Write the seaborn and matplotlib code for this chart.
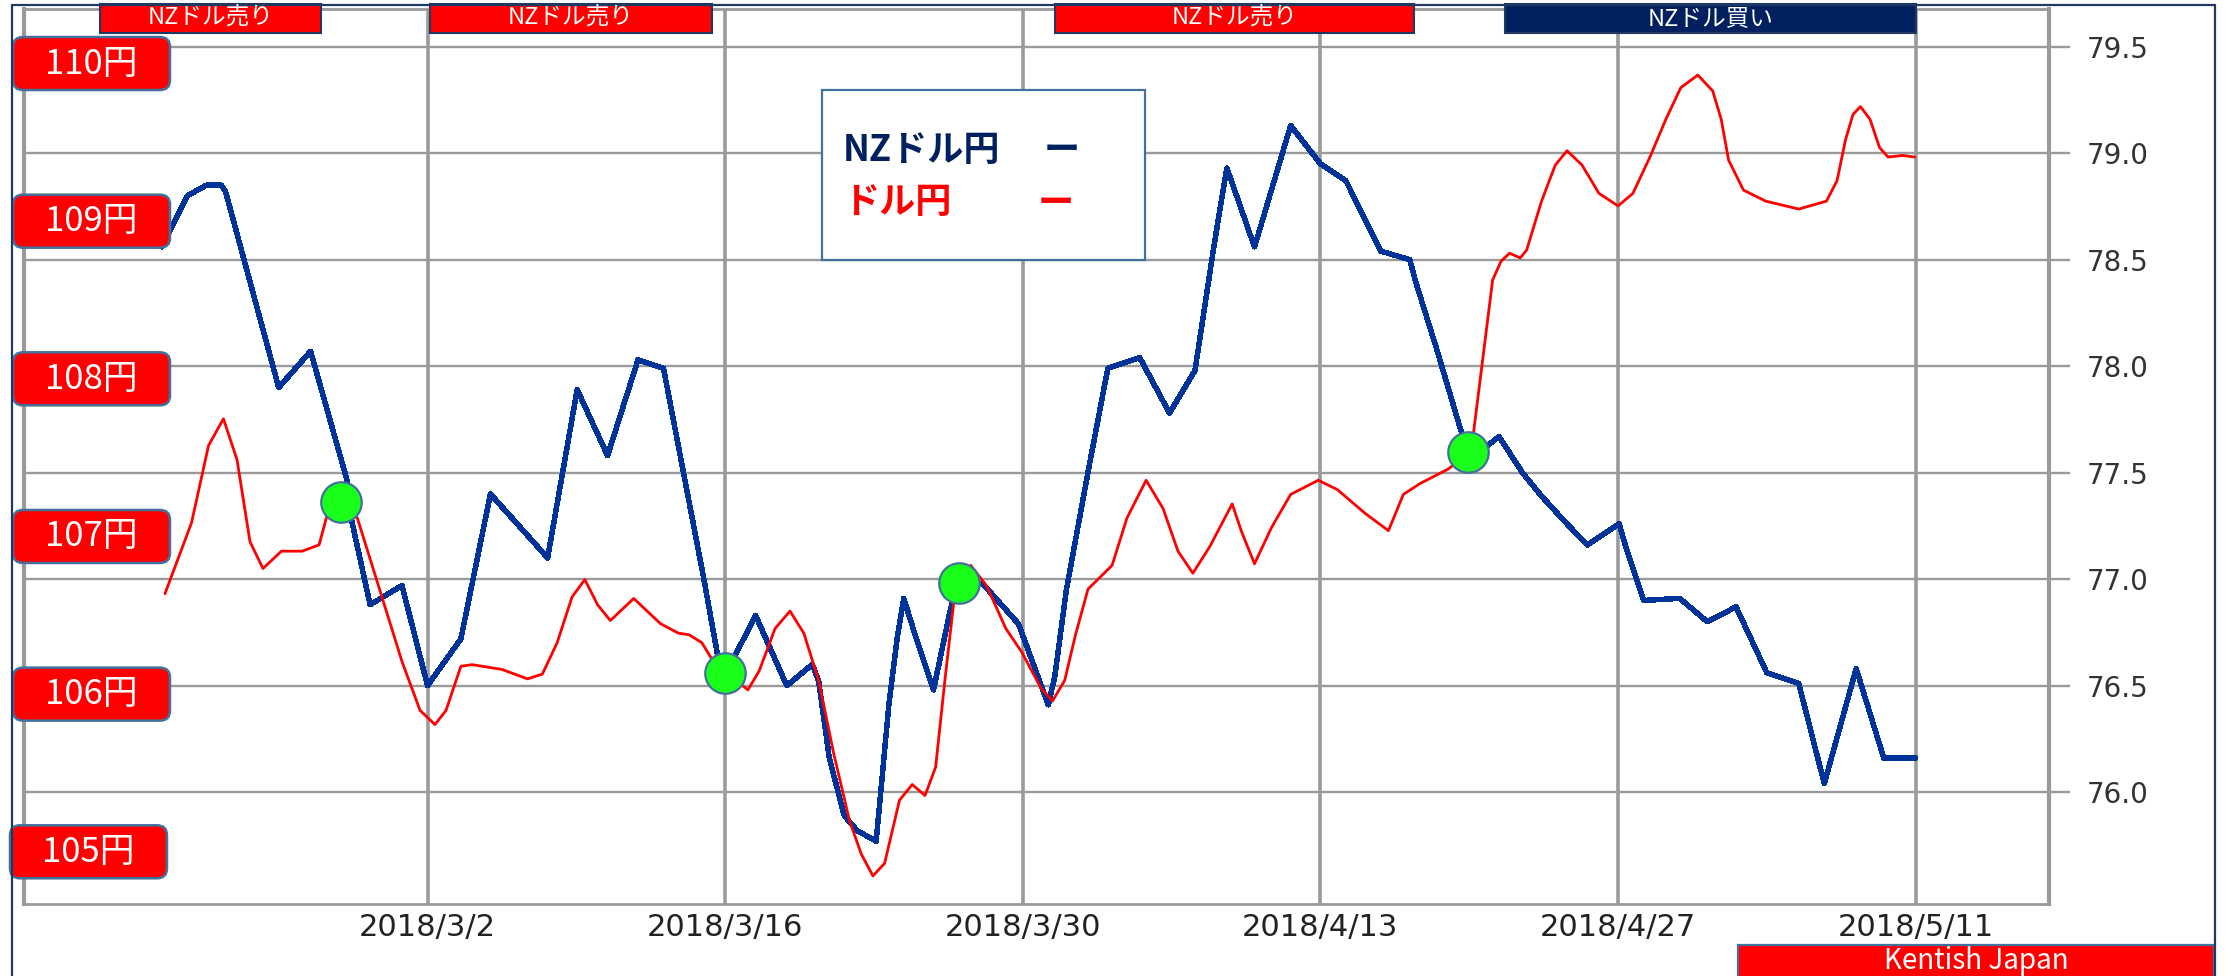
import matplotlib
matplotlib.use("Agg")
import matplotlib.pyplot as plt
from matplotlib.patches import Rectangle, FancyBboxPatch
from matplotlib.lines import Line2D
from matplotlib.transforms import IdentityTransform, blended_transform_factory
import seaborn as sns

# x = days counted from 2018/3/2
# NZドル円 (right axis)
nzd_days = [-12.5, -11.3, -10.4, -9.7, -9.5, -7.0, -5.5, -3.8, -3.6, -2.7,
            -1.2, 0.0, 1.57, 2.96, 5.65, 7.04, 8.47, 9.9, 11.1, 13.0,
            13.65, 14.0, 15.43, 16.9, 18.1, 18.4, 18.9, 19.6, 20.2, 21.1,
            21.3, 21.7, 22.1, 22.4, 22.9, 23.8, 24.6, 24.96, 26.1, 27.8,
            29.2, 29.5, 30.05, 31.1, 32.0, 33.5, 34.9, 36.1, 37.0, 37.6,
            38.9, 40.6, 42.0, 43.2, 44.85, 46.2, 46.5, 47.5, 48.6, 48.95,
            49.9, 50.4, 51.5, 52.4, 53.5, 54.55, 56.05, 56.4, 57.2, 58.9,
            60.2, 61.55, 63.0, 64.5, 65.7, 67.2, 68.5, 70.0]
nzd_rate = [78.56, 78.80, 78.85, 78.85, 78.82, 77.90, 78.07, 77.47, 77.29, 76.88,
            76.97, 76.50, 76.72, 77.40, 77.10, 77.89, 77.58, 78.03, 77.99, 77.00,
            76.64, 76.55, 76.83, 76.50, 76.60, 76.52, 76.16, 75.89, 75.82, 75.77,
            75.98, 76.41, 76.73, 76.91, 76.75, 76.48, 76.86, 76.99, 76.98, 76.79,
            76.41, 76.54, 76.95, 77.52, 77.99, 78.04, 77.78, 77.98, 78.57, 78.93,
            78.56, 79.13, 78.95, 78.87, 78.54, 78.50, 78.39, 78.07, 77.70, 77.59,
            77.63, 77.67, 77.50, 77.39, 77.27, 77.16, 77.26, 77.14, 76.90, 76.91,
            76.80, 76.87, 76.56, 76.51, 76.04, 76.58, 76.16, 76.16]

# ドル円 (left scale)
usd_days = [-12.35, -11.1, -10.3, -9.6, -8.96, -8.35, -7.74, -6.87, -5.9, -5.1,
            -4.7, -4.0, -3.3, -2.26, -1.2, -0.35, 0.35, 0.87, 1.57, 2.1,
            3.5, 4.7, 5.4, 6.1, 6.8, 7.4, 8.0, 8.6, 9.7, 10.96,
            11.8, 12.3, 12.9, 13.4, 14.05, 15.07, 15.6, 16.35, 17.05, 17.7,
            18.4, 19.1, 19.85, 20.4, 20.95, 21.5, 22.2, 22.8, 23.4, 23.9,
            24.36, 24.8, 25.55, 26.3, 27.2, 27.95, 28.86, 29.4, 29.97, 30.5,
            31.07, 31.6, 32.2, 32.9, 33.8, 34.6, 35.3, 36.0, 36.8, 37.85,
            38.3, 38.9, 39.7, 40.6, 41.9, 42.8, 44.1, 45.2, 45.9, 46.7,
            48.0, 48.95, 49.2, 49.6, 50.1, 50.5, 50.9, 51.4, 51.7, 52.4,
            53.05, 53.6, 54.3, 55.1, 56.0, 56.7, 57.5, 58.25, 58.95, 59.75,
            60.45, 60.85, 61.2, 61.9, 62.95, 64.5, 65.8, 66.3, 66.7, 67.05,
            67.4, 67.85, 68.3, 68.7, 69.4, 69.95]
usd_rate = [106.64, 107.09, 107.58, 107.75, 107.49, 106.97, 106.80, 106.91, 106.91, 106.95,
            107.15, 107.22, 107.12, 106.67, 106.21, 105.90, 105.81, 105.90, 106.18, 106.19,
            106.16, 106.10, 106.13, 106.33, 106.62, 106.73, 106.57, 106.47, 106.61, 106.45,
            106.39, 106.38, 106.33, 106.22, 106.14, 106.03, 106.15, 106.42, 106.53, 106.39,
            106.09, 105.63, 105.20, 104.99, 104.85, 104.93, 105.33, 105.43, 105.36, 105.54,
            106.12, 106.64, 106.82, 106.69, 106.42, 106.27, 106.04, 105.96, 106.09, 106.39,
            106.67, 106.74, 106.82, 107.12, 107.36, 107.18, 106.91, 106.77, 106.94, 107.21,
            107.03, 106.83, 107.06, 107.27, 107.36, 107.30, 107.15, 107.04, 107.27, 107.34,
            107.43, 107.53, 107.66, 108.09, 108.63, 108.75, 108.80, 108.77, 108.82, 109.13,
            109.36, 109.45, 109.36, 109.18, 109.10, 109.18, 109.41, 109.65, 109.85, 109.93,
            109.83, 109.65, 109.39, 109.20, 109.13, 109.08, 109.13, 109.26, 109.52, 109.68,
            109.73, 109.65, 109.47, 109.41, 109.42, 109.41]

# crossing points (green dots), on the ドル円 scale
cross_days = [-4.05, 14.0, 25.0, 48.95]
cross_usd = [107.22, 106.14, 106.71, 107.54]

tick_days = [0, 14, 28, 42, 56, 70]
tick_labels = ['2018/3/2', '2018/3/16', '2018/3/30', '2018/4/13', '2018/4/27', '2018/5/11']
nzd_ticks = [76.0, 76.5, 77.0, 77.5, 78.0, 78.5, 79.0, 79.5]
yen_levels = [110, 109, 108, 107, 106, 105]
yen_labels = ['110円', '109円', '108円', '107円', '106円', '105円']

signal_text = ['NZドル売り', 'NZドル売り', 'NZドル売り', 'NZドル買い']
signal_start = [-15.4, 0.1, 29.5, 50.7]
signal_end = [-5.0, 13.4, 46.4, 70.0]
signal_color = ['#FF0000', '#FF0000', '#FF0000', '#002060']

NAVY = '#002060'
BLUE = '#003399'
GRID = '#9a9a9a'
EDGE = '#41719C'

sns.set_style("white")
plt.rcParams['font.family'] = ['Noto Sans CJK JP', 'DejaVu Sans']

W, H = 2231, 976
fig = plt.figure(figsize=(W / 100, H / 100), dpi=100)
fig.patch.set_facecolor('white')
ax = fig.add_axes([24 / W, 1 - 904 / H, 2025 / W, 895 / H])
ax2 = ax.twinx()

sns.lineplot(x=nzd_days, y=nzd_rate, ax=ax, color=BLUE, lw=3.2,
             sort=False, estimator=None, antialiased=False)
sns.lineplot(x=usd_days, y=usd_rate, ax=ax2, color='#FF0000', lw=2.0,
             sort=False, estimator=None)
sns.scatterplot(x=cross_days, y=cross_usd, ax=ax2, s=850, color='#1AFF1A',
                edgecolor=EDGE, linewidth=1.6, zorder=5)

ax.set_xlim(-18.98, 76.27)
ax.set_ylim(75.475, 79.677)
ax2.set_ylim(104.672, 110.349)

ax.set_xticks(tick_days, tick_labels)
ax.set_yticks(nzd_ticks, [f'{v:.1f}' for v in nzd_ticks])
ax.yaxis.tick_right()
ax.tick_params(axis='x', length=0, pad=6.5, labelsize=22, labelcolor='#222222')
ax.tick_params(axis='y', length=15, width=1.7, color=GRID, pad=12,
               labelsize=20, labelcolor='#333333')
for lab in ax.get_xticklabels() + ax.get_yticklabels():
    lab.set_fontfamily('DejaVu Sans')
ax.grid(axis='x', color=GRID, lw=2.6)
ax.grid(axis='y', color=GRID, lw=1.7)
ax.set_xlabel('')
ax.set_ylabel('')
for name, sp in ax.spines.items():
    sp.set_visible(True)
    sp.set_color(GRID)
    sp.set_linewidth(3.0 if name in ('left', 'right') else 2.0)
ax2.set_yticks([])
ax2.set_ylabel('')
for sp in ax2.spines.values():
    sp.set_visible(False)

px = IdentityTransform()

# outer navy frame
for xs, ys in [([12, 12], [0, H - 5]), ([12, 2215], [H - 5, H - 5]), ([2215, 2215], [0, H - 5])]:
    fig.add_artist(Line2D(xs, ys, color='#1F3864', lw=1.6, transform=px))

# yen labels on the left
for lvl, lab in zip(yen_levels, yen_labels):
    yp = ax2.transData.transform((0, lvl))[1]
    x0 = 10 if lvl == 105 else 13
    fig.add_artist(FancyBboxPatch((x0, yp - 26), 157, 53,
                                  boxstyle='round,pad=0,rounding_size=10',
                                  fc='#FF0000', ec=EDGE, lw=1.8, transform=px))
    fig.text(x0 + 78, yp, lab, transform=px, ha='center', va='center',
             color='white', fontsize=25)

# buy / sell banners along the top
bt = blended_transform_factory(ax.transData, px)
for txt, s0, s1, c in zip(signal_text, signal_start, signal_end, signal_color):
    fig.add_artist(Rectangle((s0, H - 33), s1 - s0, 29, fc=c, ec='#1F3864',
                             lw=1.5, transform=bt))
    fig.text((s0 + s1) / 2, H - 18.5, txt, transform=bt, ha='center',
             va='center', color='white', fontsize=17)

# legend box
fig.add_artist(Rectangle((822, H - 260), 323, 170, fc='white', ec=EDGE,
                         lw=1.6, transform=px))
fig.text(843, H - 150, 'NZドル円', transform=px, ha='left', va='center',
         color=NAVY, fontsize=26, fontweight='bold')
fig.text(1062, H - 150, 'ー', transform=px, ha='center', va='center',
         color=NAVY, fontsize=26, fontweight='bold')
fig.text(843, H - 203, 'ドル円', transform=px, ha='left', va='center',
         color='#FF0000', fontsize=26, fontweight='bold')
fig.text(1056, H - 203, 'ー', transform=px, ha='center', va='center',
         color='#FF0000', fontsize=26, fontweight='bold')

# credit box
fig.add_artist(Rectangle((1738, -10), 476, H - 945 + 10, fc='#FF0000',
                         ec=EDGE, lw=1.6, transform=px))
fig.text(1976, 15, 'Kentish Japan', transform=px, ha='center', va='center',
         color='white', fontsize=20)

fig.savefig('out.png', dpi=100)
